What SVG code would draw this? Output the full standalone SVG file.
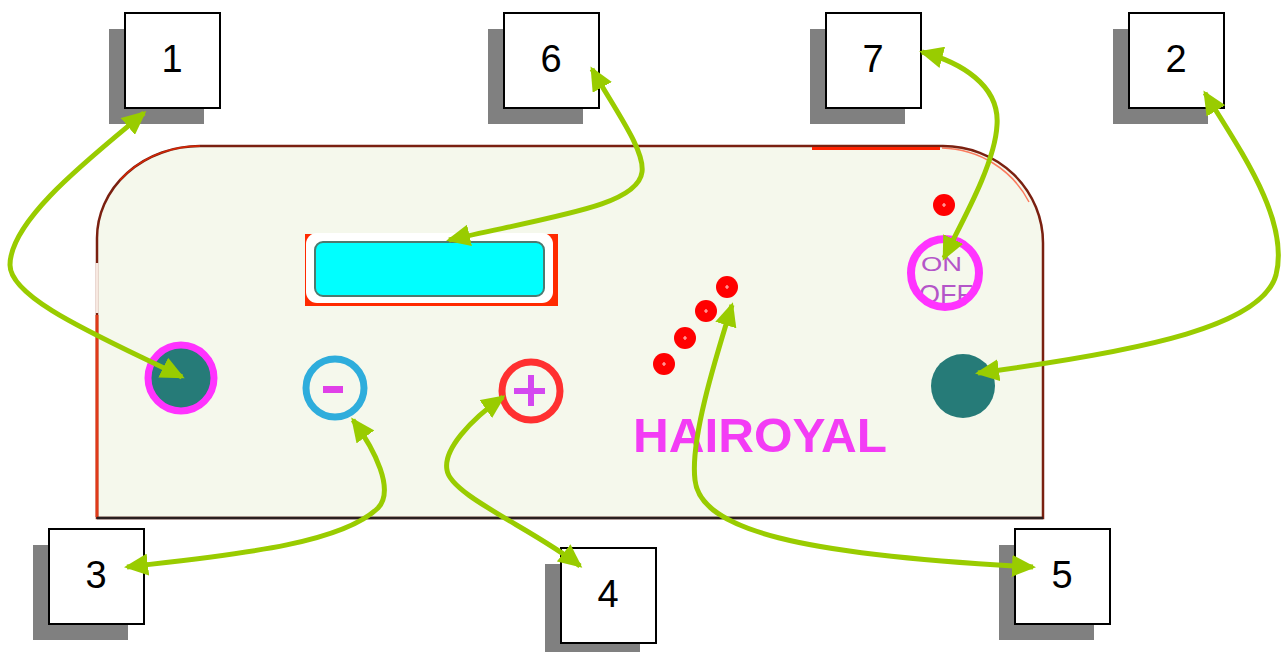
<svg xmlns="http://www.w3.org/2000/svg" width="1282" height="652" viewBox="0 0 1282 652">
<defs>
<style>
.shadow{fill:#808080}
.box{fill:#ffffff;stroke:#000000;stroke-width:2}
.num{font-family:"Liberation Sans",Arial,sans-serif;font-size:38px;fill:#000000;text-anchor:middle}
.conn{fill:none;stroke:#99cc00;stroke-width:5;marker-start:url(#ah);marker-end:url(#ah)}
.dot{fill:#ff0000}
.dotx{stroke:#ffb8b8;stroke-width:1.2}
.onoff{font-family:"Liberation Sans",Arial,sans-serif;fill:#b455c8}
</style>
<marker id="ah" viewBox="0 0 24 22" refX="21" refY="11" markerWidth="24" markerHeight="22" markerUnits="userSpaceOnUse" orient="auto-start-reverse">
<path d="M0,0 L24,11 L0,22 z" fill="#99cc00"/>
</marker>
</defs>
<rect x="0" y="0" width="1282" height="652" fill="#ffffff"/>

<g id="panel">
<path d="M97,518 L97,238 A103,92 0 0 1 200,146 L943,146 A100,97 0 0 1 1043,243 L1043,518 Z" fill="#f5f8ec" stroke="#7a2010" stroke-width="2.5"/>
<path d="M812,148.5 L940,148.5" stroke="#ff2200" stroke-width="3"/>
<path d="M97,315 L97,517" stroke="#e03a18" stroke-width="3"/>
<path d="M97,263 L97,313" stroke="#f7e8e0" stroke-width="3"/>
<path d="M97,518 L1043,518" stroke="#2a2020" stroke-width="2.5"/>
<path d="M120,180 A103,92 0 0 1 200,146" fill="none" stroke="#ff2a00" stroke-width="1.5" opacity="0.7"/>
<path d="M943,146 A100,97 0 0 1 1030,200" fill="none" stroke="#ff2a00" stroke-width="1.5" opacity="0.6" transform="translate(-1,2)"/>
</g>

<g id="display">
<rect x="305" y="234" width="253" height="72" fill="#ff2a00"/>
<rect x="306" y="233" width="247" height="70" rx="11" fill="#ffffff"/>
<rect x="315" y="242" width="229" height="54" rx="8" fill="#00ffff" stroke="#4d7a70" stroke-width="2"/>
</g>

<g id="button-left">
<circle cx="181" cy="378" r="33" fill="#267b78" stroke="#ff33ff" stroke-width="7"/>
</g>

<g id="button-minus">
<circle cx="335" cy="388" r="29" fill="#f5f8ec" stroke="#2eaddc" stroke-width="7"/>
<rect x="323" y="386" width="20" height="7" fill="#e040e8"/>
</g>

<g id="button-plus">
<circle cx="531" cy="391" r="29" fill="#f5f8ec" stroke="#ff3030" stroke-width="7"/>
<rect x="514" y="388" width="31" height="6" fill="#d448f0"/>
<rect x="528" y="375" width="6" height="31" fill="#d448f0"/>
</g>

<g id="button-right">
<circle cx="963" cy="386" r="32" fill="#267b78"/>
</g>

<g id="onoff">
<text class="onoff" x="921" y="271" font-size="21" textLength="41" lengthAdjust="spacingAndGlyphs">ON</text>
<text class="onoff" x="919" y="303" font-size="26" textLength="54" lengthAdjust="spacingAndGlyphs">OFF</text>
<circle cx="945" cy="273" r="34" fill="none" stroke="#ff33ff" stroke-width="8"/>
</g>

<g id="leds">
<circle class="dot" cx="944" cy="205" r="11"/>
<path class="dotx" d="M942,205h4M944,203v4"/>
<circle class="dot" cx="664" cy="364" r="11"/>
<path class="dotx" d="M662,364h4M664,362v4"/>
<circle class="dot" cx="685" cy="338" r="11"/>
<path class="dotx" d="M683,338h4M685,336v4"/>
<circle class="dot" cx="706" cy="311" r="11"/>
<path class="dotx" d="M704,311h4M706,309v4"/>
<circle class="dot" cx="727" cy="287" r="11"/>
<path class="dotx" d="M725,287h4M727,285v4"/>
</g>

<g id="brand">
<text x="633" y="452" font-family="'Liberation Sans',Arial,sans-serif" font-size="48" font-weight="bold" fill="#f33cf5" textLength="254" lengthAdjust="spacingAndGlyphs">HAIROYAL</text>
</g>

<g id="label-1">
<rect class="shadow" x="109" y="29" width="95" height="95"/>
<rect class="box" x="125" y="13" width="95" height="95"/>
<text class="num" x="172" y="72">1</text>
</g>
<g id="label-6">
<rect class="shadow" x="488" y="29" width="95" height="95"/>
<rect class="box" x="504" y="13" width="95" height="95"/>
<text class="num" x="551" y="72">6</text>
</g>
<g id="label-7">
<rect class="shadow" x="810" y="29" width="95" height="95"/>
<rect class="box" x="826" y="13" width="95" height="95"/>
<text class="num" x="873" y="72">7</text>
</g>
<g id="label-2">
<rect class="shadow" x="1113" y="29" width="95" height="95"/>
<rect class="box" x="1129" y="13" width="95" height="95"/>
<text class="num" x="1176" y="72">2</text>
</g>
<g id="label-3">
<rect class="shadow" x="33" y="545" width="95" height="95"/>
<rect class="box" x="49" y="529" width="95" height="95"/>
<text class="num" x="96" y="588">3</text>
</g>
<g id="label-4">
<rect class="shadow" x="545" y="564" width="95" height="95"/>
<rect class="box" x="561" y="548" width="95" height="95"/>
<text class="num" x="608" y="607">4</text>
</g>
<g id="label-5">
<rect class="shadow" x="999" y="545" width="95" height="95"/>
<rect class="box" x="1015" y="529" width="95" height="95"/>
<text class="num" x="1062" y="588">5</text>
</g>

<g id="connectors">
<path class="conn" d="M144,113 C90,158 10,220 10,265 C10,300 108,340 182,377"/>
<path class="conn" d="M592,69 C615,110 645,150 642,172 C638,205 560,215 449,240"/>
<path class="conn" d="M922,52 C960,62 1000,85 997,125 C995,165 960,225 944,258"/>
<path class="conn" d="M1205,93 C1240,150 1290,220 1276,275 C1262,325 1150,350 978,373"/>
<path class="conn" d="M353,420 C375,450 395,490 378,508 C340,545 230,555 127,567"/>
<path class="conn" d="M503,397 C470,420 443,450 447,470 C450,495 535,530 580,566"/>
<path class="conn" d="M732,305 C715,360 690,440 695,480 C700,530 800,555 1033,567"/>
</g>
</svg>
